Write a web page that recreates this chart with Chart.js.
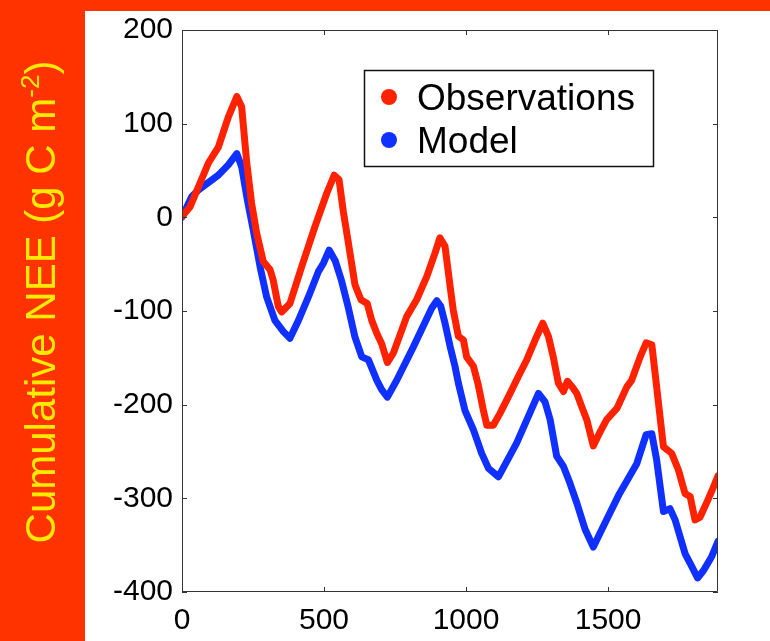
<!DOCTYPE html>
<html>
<head>
<meta charset="utf-8">
<script src="https://cdn.jsdelivr.net/npm/chart.js@4"></script>
<style>
  html, body { margin: 0; padding: 0; background: #ff3300; }
  #wrap { width: 770px; height: 641px; }
</style>
</head>
<body>
<div id="wrap"><canvas id="nee-chart" width="770" height="641"></canvas></div>
<script>
// Cumulative NEE over the record: observed flux tower sums vs model run

const OBS_DAY = [0, 28, 93, 128, 163, 193, 210, 228, 245, 263, 286, 310, 321, 339, 351, 380, 421, 468, 510, 536,
  553, 568, 583, 609, 630, 652, 668, 686, 703, 723, 744, 791, 826, 862, 891, 908, 926, 944, 955, 973,
  991, 1002, 1026, 1043, 1061, 1073, 1096, 1120, 1155, 1184, 1214, 1243, 1270, 1290, 1307, 1325, 1343, 1357, 1376, 1390,
  1407, 1425, 1448, 1472, 1495, 1531, 1566, 1583, 1613, 1634, 1654, 1671, 1695, 1724, 1748, 1771, 1789, 1806, 1824, 1848,
  1871, 1887];
const OBS_NEE = [1, 11, 58, 75, 107, 129, 118, 58, 15, -17, -47, -56, -67, -95, -101, -92, -53, -10, 26, 45,
  40, 6, -22, -72, -88, -92, -110, -124, -135, -155, -145, -106, -88, -63, -38, -22, -31, -74, -99, -127,
  -131, -149, -159, -179, -206, -222, -222, -209, -188, -170, -152, -131, -113, -127, -149, -177, -186, -175, -182, -188,
  -202, -216, -244, -229, -216, -204, -181, -174, -149, -134, -136, -181, -245, -252, -270, -295, -298, -323, -320, -304,
  -288, -276];

const MODEL_DAY = [0, 34, 57, 128, 163, 193, 210, 228, 251, 275, 298, 327, 357, 380, 410, 445, 480, 498, 518, 539,
  562, 586, 609, 633, 656, 686, 703, 723, 756, 815, 879, 897, 911, 926, 944, 961, 973, 996, 1026, 1055,
  1079, 1114, 1178, 1255, 1278, 1296, 1319, 1343, 1366, 1390, 1419, 1448, 1480, 1540, 1601, 1634, 1654, 1671, 1695, 1718,
  1736, 1771, 1795, 1815, 1836, 1865, 1887];
const MODEL_NEE = [0, 22, 29, 45, 56, 68, 54, 22, -14, -53, -85, -110, -122, -129, -110, -85, -58, -49, -35, -46,
  -68, -97, -128, -149, -152, -174, -184, -192, -174, -138, -97, -89, -95, -113, -138, -159, -177, -206, -227, -252,
  -268, -277, -241, -188, -197, -216, -255, -266, -284, -305, -333, -352, -332, -295, -263, -232, -231, -259, -314, -311,
  -323, -359, -373, -385, -377, -362, -346];

const X_TICKS = [0, 500, 1000, 1500];
const Y_TICKS = [-400, -300, -200, -100, 0, 100, 200];
const X_MIN = 0, X_MAX = 1887;
const Y_MIN = -400, Y_MAX = 200;

const SERIES_LABELS = ['Observations', 'Model'];
const SERIES_COLORS = ['#ff2200', '#1030ff'];

const FONT = '"Liberation Sans", Arial, Helvetica, sans-serif';
const BG_RED = '#ff3300';
const TITLE_YELLOW = '#ffea00';

function toPoints(xs, ys) {
  return xs.map((x, i) => ({ x: x, y: ys[i] }));
}

// red page with the white plotting panel on top
const panelPlugin = {
  id: 'panel',
  beforeDraw(chart) {
    const c = chart.ctx;
    c.save();
    c.fillStyle = BG_RED;
    c.fillRect(0, 0, chart.width, chart.height);
    c.fillStyle = '#ffffff';
    c.fillRect(85, 11, chart.width - 85, chart.height - 11);
    c.restore();
  }
};

// boxed axes with inward tick marks on all four sides
const framePlugin = {
  id: 'frame',
  afterDatasetsDraw(chart) {
    const { ctx: c, chartArea: a, scales } = chart;
    const len = 5;
    c.save();
    c.strokeStyle = '#333333';
    c.lineWidth = 1;
    c.beginPath();
    c.rect(a.left + 0.5, a.top + 0.5, a.right - a.left - 1, a.bottom - a.top - 1);
    scales.x.ticks.forEach(t => {
      const px = Math.round(scales.x.getPixelForValue(t.value)) + 0.5;
      c.moveTo(px, a.bottom); c.lineTo(px, a.bottom - len);
      c.moveTo(px, a.top); c.lineTo(px, a.top + len);
    });
    scales.y.ticks.forEach(t => {
      const py = Math.round(scales.y.getPixelForValue(t.value)) + 0.5;
      c.moveTo(a.left, py); c.lineTo(a.left + len, py);
      c.moveTo(a.right, py); c.lineTo(a.right - len, py);
    });
    c.stroke();
    c.restore();
  }
};

// legend box inside the plot, dots + labels taken from the datasets
const legendPlugin = {
  id: 'boxLegend',
  afterDraw(chart) {
    const c = chart.ctx;
    const box = { x: 364.5, y: 70.5, w: 289, h: 96 };
    c.save();
    c.fillStyle = '#ffffff';
    c.fillRect(box.x, box.y, box.w, box.h);
    c.strokeStyle = '#111111';
    c.lineWidth = 1.5;
    c.strokeRect(box.x, box.y, box.w, box.h);
    const rows = [110, 153];
    chart.data.datasets.forEach((ds, i) => {
      c.fillStyle = ds.borderColor;
      c.beginPath();
      c.arc(389, rows[i] - 13, 8, 0, Math.PI * 2);
      c.fill();
      c.fillStyle = '#000000';
      c.font = '37px ' + FONT;
      c.textAlign = 'left';
      c.textBaseline = 'alphabetic';
      c.fillText(ds.label, 417, rows[i]);
    });
    c.restore();
  }
};

// rotated y title with a superscript exponent
const titlePlugin = {
  id: 'yTitle',
  afterDraw(chart) {
    const c = chart.ctx;
    const main = '42px ' + FONT;
    const sup = '26px ' + FONT;
    const parts = [
      { text: 'Cumulative NEE (g C m', font: main, rise: 0 },
      { text: '-2', font: sup, rise: -16 },
      { text: ')', font: main, rise: 0 }
    ];
    let total = 0;
    parts.forEach(p => { c.font = p.font; p.w = c.measureText(p.text).width; total += p.w; });
    c.save();
    c.translate(55, 302);
    c.rotate(-Math.PI / 2);
    c.fillStyle = TITLE_YELLOW;
    c.textBaseline = 'alphabetic';
    c.textAlign = 'left';
    let x = -total / 2;
    parts.forEach(p => {
      c.font = p.font;
      c.fillText(p.text, x, p.rise);
      x += p.w;
    });
    c.restore();
  }
};

const tickFont = { family: FONT, size: 30 };

new Chart(document.getElementById('nee-chart'), {
  type: 'line',
  data: {
    datasets: [
      {
        label: SERIES_LABELS[0],
        data: toPoints(OBS_DAY, OBS_NEE),
        borderColor: SERIES_COLORS[0],
        borderWidth: 7,
        pointRadius: 0,
        tension: 0,
        borderJoinStyle: 'round',
        borderCapStyle: 'round'
      },
      {
        label: SERIES_LABELS[1],
        data: toPoints(MODEL_DAY, MODEL_NEE),
        borderColor: SERIES_COLORS[1],
        borderWidth: 7,
        pointRadius: 0,
        tension: 0,
        borderJoinStyle: 'round',
        borderCapStyle: 'round'
      }
    ]
  },
  options: {
    responsive: false,
    animation: false,
    layout: { padding: { top: 30, right: 52, left: 0, bottom: 0 } },
    plugins: { legend: { display: false }, tooltip: { enabled: false } },
    scales: {
      x: {
        type: 'linear',
        min: X_MIN,
        max: X_MAX,
        afterBuildTicks: s => { s.ticks = X_TICKS.map(v => ({ value: v })); },
        afterFit: s => { s.height = 49; },
        grid: { display: false, drawTicks: false },
        border: { display: false },
        ticks: { font: tickFont, color: '#000', padding: 11, maxRotation: 0, callback: v => String(v) }
      },
      y: {
        type: 'linear',
        min: Y_MIN,
        max: Y_MAX,
        afterBuildTicks: s => { s.ticks = Y_TICKS.map(v => ({ value: v })); },
        afterFit: s => { s.width = 182; },
        grid: { display: false, drawTicks: false },
        border: { display: false },
        ticks: { font: tickFont, color: '#000', padding: 9, callback: v => String(v) }
      }
    }
  },
  plugins: [panelPlugin, framePlugin, legendPlugin, titlePlugin]
});
</script>
</body>
</html>
